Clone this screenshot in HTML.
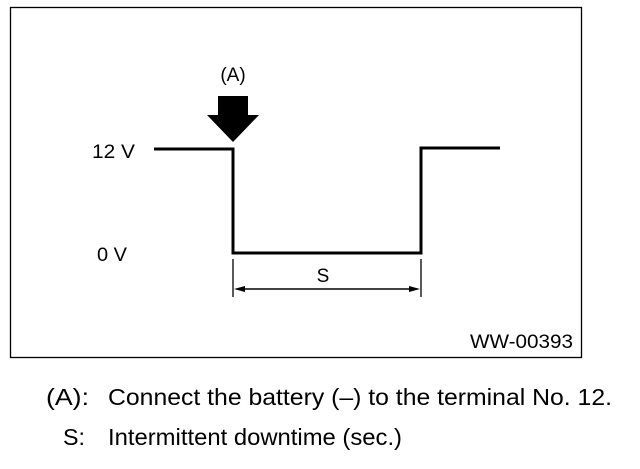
<!DOCTYPE html>
<html><head><style>
body{margin:0;background:#fff;width:640px;height:464px;overflow:hidden}
svg text{font-family:"Liberation Sans",Arial,sans-serif;fill:#000}
</style></head><body>
<svg width="640" height="464" xmlns="http://www.w3.org/2000/svg">
<rect x="10.5" y="7.5" width="571" height="350" fill="none" stroke="#000" stroke-width="1.3"/>
<text x="233" y="81" font-size="19" text-anchor="middle">(A)</text>
<rect x="218" y="96" width="30" height="20" fill="#000"/>
<polygon points="207,115 259,115 233,142" fill="#000"/>
<text x="92" y="158" font-size="19" textLength="43" lengthAdjust="spacingAndGlyphs">12 V</text>
<text x="97" y="261" font-size="19" textLength="30" lengthAdjust="spacingAndGlyphs">0 V</text>
<polyline points="154,149 233,149 233,253 421,253 421,148 500,148" fill="none" stroke="#000" stroke-width="3"/>
<line x1="233" y1="259" x2="233" y2="297" stroke="#000" stroke-width="1.3"/>
<line x1="421" y1="259" x2="421" y2="297" stroke="#000" stroke-width="1.3"/>
<line x1="238" y1="289" x2="416" y2="289" stroke="#000" stroke-width="1.5"/>
<polygon points="234,289 245,286 245,292" fill="#000"/>
<polygon points="420,289 409,286 409,292" fill="#000"/>
<text x="323" y="282" font-size="19" text-anchor="middle">S</text>
<text x="470" y="348" font-size="19" textLength="103" lengthAdjust="spacingAndGlyphs">WW-00393</text>
<text x="46" y="405" font-size="23" textLength="43" lengthAdjust="spacingAndGlyphs">(A):</text>
<text x="108" y="405" font-size="23" textLength="504" lengthAdjust="spacingAndGlyphs">Connect the battery (–) to the terminal No. 12.</text>
<text x="63" y="445" font-size="23" textLength="22" lengthAdjust="spacingAndGlyphs">S:</text>
<text x="108" y="445" font-size="23" textLength="294" lengthAdjust="spacingAndGlyphs">Intermittent downtime (sec.)</text>
</svg>
</body></html>
